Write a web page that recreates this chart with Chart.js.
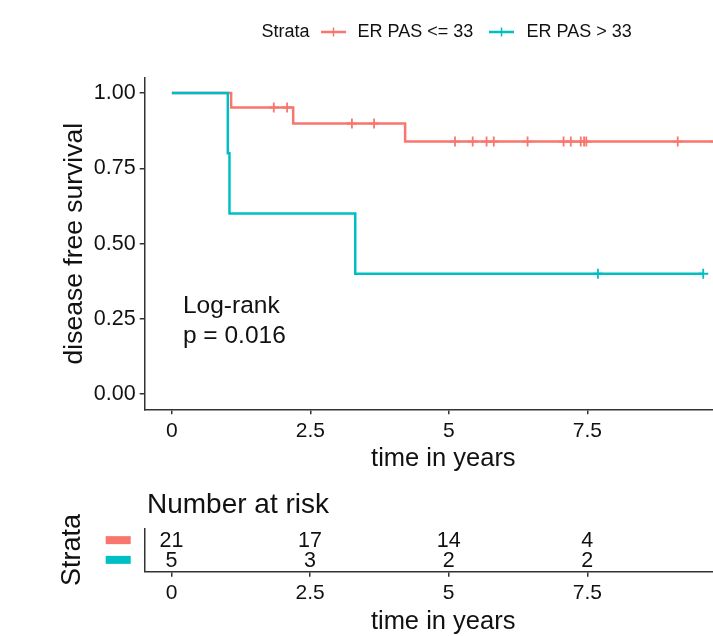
<!DOCTYPE html>
<html><head><meta charset="utf-8">
<script src="https://cdn.jsdelivr.net/npm/chart.js@4.4.1/dist/chart.umd.min.js"></script>
<style>
html,body{margin:0;padding:0;background:#fff;overflow:hidden;width:713px;height:636px;}
#wrap{position:relative;width:780px;height:640px;}
#km{position:absolute;left:0;top:0;}
#risk{position:absolute;left:0;top:480px;}
</style></head><body>
<div id="wrap">
<canvas id="km" width="780" height="480"></canvas>
<canvas id="risk" width="780" height="160"></canvas>
</div>
<script>
// ---------- data ----------
const strataLabels = ['ER PAS <= 33', 'ER PAS > 33'];
const lowStepTimes  = [0, 1.07, 2.19, 4.21, 9.80];
const lowStepSurv   = [1.0, 0.952, 0.899, 0.839, 0.839];
const lowCensorTimes = [1.84, 2.08, 3.25, 3.65, 5.11, 5.43, 5.68, 5.81, 6.42, 7.07, 7.20, 7.38, 7.44, 7.48, 9.13, 9.80];
const highStepTimes = [0, 1.01, 1.04, 3.31, 9.59];
const highStepSurv  = [1.0, 0.8, 0.6, 0.4, 0.4];
const highCensorTimes = [7.69, 9.59];
const xTicks = [0, 2.5, 5, 7.5, 10];
const yTicks = [0, 0.25, 0.5, 0.75, 1];
const riskTimes = [0, 2.5, 5, 7.5];
const riskLow  = [21, 17, 14, 4];
const riskHigh = [5, 3, 2, 2];
const pvalLines = ['Log-rank', 'p = 0.016'];
const pvalX = 0.2;
const pvalY = [0.27, 0.171];

// ---------- style ----------
const RED = '#F8766D', TEAL = '#00BFC4', AX = '#333333', TXT = '#111111';
const FAM = '"Liberation Sans", Arial, sans-serif';

function survAt(times, surv, t) {
  let s = surv[0];
  for (let i = 0; i < times.length; i++) if (times[i] <= t) s = surv[i];
  return s;
}
const stepPts = (ts, ss) => ts.map((t, i) => ({x: t, y: ss[i]}));
const censorPts = (cs, ts, ss) => cs.map(t => ({x: t, y: survAt(ts, ss, t)}));

const xTickLabel = v => String(v);

function xScaleOpts(titlePad, height) {
  return {
    type: 'linear', min: -0.49, max: 10.29,
    afterBuildTicks: s => { s.ticks = xTicks.map(v => ({value: v})); },
    afterFit: s => { s.height = height; },
    ticks: {callback: xTickLabel, font: {family: FAM, size: 21}, color: TXT, padding: 4, maxRotation: 0, autoSkip: false},
    grid: {drawOnChartArea: false, drawTicks: true, tickLength: 5, color: AX, lineWidth: 1.5},
    border: {display: true, color: AX, width: 1.5},
    title: {display: true, text: 'time in years', font: {family: FAM, size: 25.5}, color: TXT, padding: {top: 0, bottom: titlePad}}
  };
}

// ---------- main KM chart ----------
const kmOverlay = {
  id: 'kmOverlay',
  afterDraw(chart) {
    const ctx = chart.ctx, xs = chart.scales.x, ys = chart.scales.y;
    ctx.save();
    // p-value annotation
    ctx.fillStyle = TXT;
    ctx.font = '24.5px ' + FAM;
    ctx.textAlign = 'left';
    ctx.textBaseline = 'alphabetic';
    pvalLines.forEach((txt, i) => ctx.fillText(txt, xs.getPixelForValue(pvalX), ys.getPixelForValue(pvalY[i])));
    // legend
    ctx.font = '18px ' + FAM;
    ctx.textBaseline = 'middle';
    const ly = 32;
    ctx.fillText('Strata', 261.5, ly);
    const keys = [{x0: 321, c: RED, tx: 357.5, t: strataLabels[0]}, {x0: 489, c: TEAL, tx: 526.5, t: strataLabels[1]}];
    keys.forEach(k => {
      ctx.strokeStyle = k.c; ctx.lineWidth = 2.5;
      ctx.beginPath(); ctx.moveTo(k.x0, ly); ctx.lineTo(k.x0 + 25, ly); ctx.stroke();
      ctx.lineWidth = 1.5;
      const cx = k.x0 + 12.5;
      ctx.beginPath(); ctx.moveTo(cx - 4.5, ly); ctx.lineTo(cx + 4.5, ly);
      ctx.moveTo(cx, ly - 4.5); ctx.lineTo(cx, ly + 4.5); ctx.stroke();
      ctx.fillStyle = TXT;
      ctx.fillText(k.t, k.tx, ly);
    });
    ctx.restore();
  }
};

new Chart(document.getElementById('km'), {
  type: 'line',
  data: {
    datasets: [
      {label: strataLabels[1], data: stepPts(highStepTimes, highStepSurv), stepped: 'before', borderColor: TEAL, borderWidth: 2.5, pointRadius: 0, fill: false, order: 0},
      {label: strataLabels[1] + ' censor', type: 'scatter', data: censorPts(highCensorTimes, highStepTimes, highStepSurv), pointStyle: 'cross', pointRadius: 5, borderColor: TEAL, backgroundColor: TEAL, pointBorderWidth: 1.8, order: 0},
      {label: strataLabels[0], data: stepPts(lowStepTimes, lowStepSurv), stepped: 'before', borderColor: RED, borderWidth: 2.5, pointRadius: 0, fill: false, order: 1},
      {label: strataLabels[0] + ' censor', type: 'scatter', data: censorPts(lowCensorTimes, lowStepTimes, lowStepSurv), pointStyle: 'cross', pointRadius: 5, borderColor: RED, backgroundColor: RED, pointBorderWidth: 1.8, order: 1}
    ]
  },
  options: {
    responsive: false, animation: false, devicePixelRatio: 1,
    layout: {padding: {top: 78, right: 38, left: 0, bottom: 0}},
    plugins: {legend: {display: false}, tooltip: {enabled: false}},
    scales: {
      x: xScaleOpts(6, 70.7),
      y: {
        type: 'linear', min: -0.05, max: 1.05,
        afterBuildTicks: s => { s.ticks = yTicks.map(v => ({value: v})); },
        afterFit: s => { s.width = 144.7; },
        ticks: {callback: v => Number(v).toFixed(2), font: {family: FAM, size: 21.5}, color: TXT, padding: 4},
        grid: {drawOnChartArea: false, drawTicks: true, tickLength: 5, color: AX, lineWidth: 1.5},
        border: {display: true, color: AX, width: 1.5},
        title: {display: true, text: 'disease free survival', font: {family: FAM, size: 26.5}, color: TXT, padding: {top: 59, bottom: 0}}
      }
    }
  },
  plugins: [kmOverlay]
});

// ---------- risk table ----------
const riskOverlay = {
  id: 'riskOverlay',
  afterDraw(chart) {
    const ctx = chart.ctx, xs = chart.scales.x, ys = chart.scales.y;
    ctx.save();
    ctx.fillStyle = TXT;
    ctx.font = '28px ' + FAM;
    ctx.textAlign = 'left'; ctx.textBaseline = 'middle';
    ctx.fillText('Number at risk', 147, 25);
    const rows = [{v: 2, c: RED, n: riskLow}, {v: 1, c: TEAL, n: riskHigh}];
    ctx.font = '21.5px ' + FAM;
    ctx.textAlign = 'center';
    rows.forEach(r => {
      const py = ys.getPixelForValue(r.v);
      ctx.fillStyle = r.c;
      ctx.fillRect(105.7, py - 4, 25, 8);
      ctx.fillStyle = TXT;
      riskTimes.forEach((t, i) => ctx.fillText(String(r.n[i]), xs.getPixelForValue(t), py + 1));
    });
    ctx.restore();
  }
};

new Chart(document.getElementById('risk'), {
  type: 'scatter',
  data: {datasets: [{data: []}]},
  options: {
    responsive: false, animation: false, devicePixelRatio: 1,
    layout: {padding: {top: 48.3, right: 38, left: 0, bottom: 0}},
    plugins: {legend: {display: false}, tooltip: {enabled: false}},
    scales: {
      x: xScaleOpts(3, 68.3),
      y: {
        type: 'linear', min: 0.4, max: 2.6,
        afterFit: s => { s.width = 144.3; },
        ticks: {display: false},
        grid: {display: false},
        border: {display: true, color: AX, width: 1.5},
        title: {display: true, text: 'Strata', font: {family: FAM, size: 27}, color: TXT, padding: {top: 56, bottom: 0}}
      }
    }
  },
  plugins: [riskOverlay]
});
</script>
</body></html>
